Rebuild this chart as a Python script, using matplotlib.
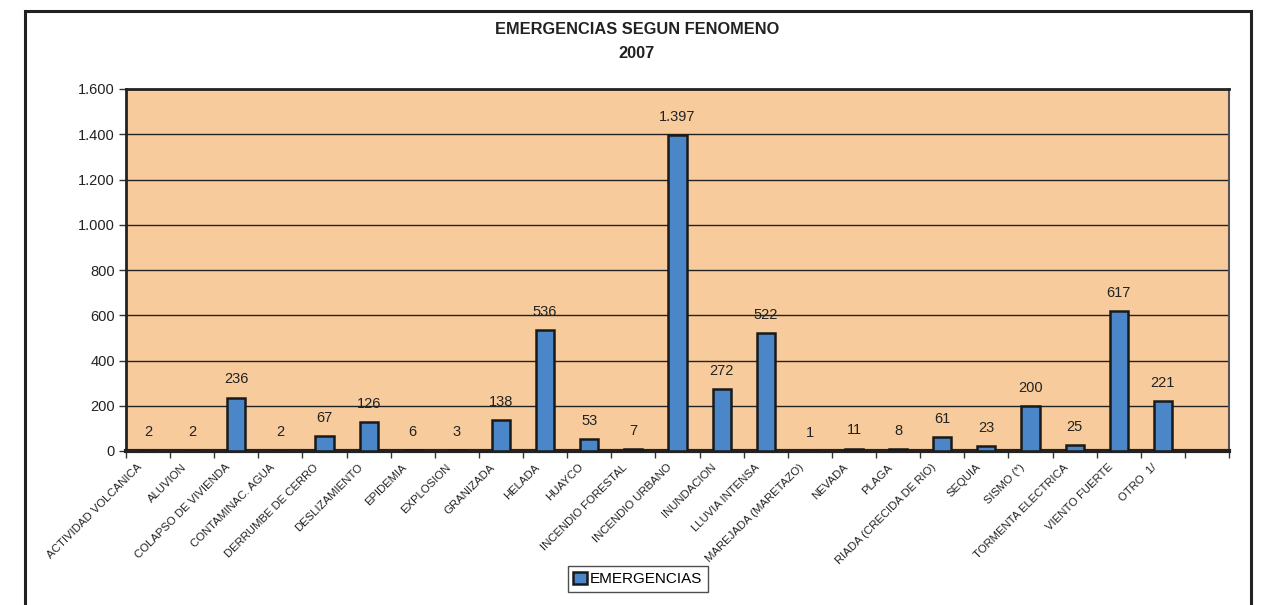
import matplotlib
matplotlib.use('Agg')
import matplotlib.pyplot as plt
import numpy as np
from matplotlib.ticker import FuncFormatter, FixedLocator
from matplotlib.patches import Rectangle

categories = ['ACTIVIDAD VOLCANICA', 'ALUVION', 'COLAPSO DE VIVIENDA', 'CONTAMINAC. AGUA',
              'DERRUMBE DE CERRO', 'DESLIZAMIENTO', 'EPIDEMIA', 'EXPLOSION', 'GRANIZADA',
              'HELADA', 'HUAYCO', 'INCENDIO FORESTAL', 'INCENDIO URBANO', 'INUNDACION',
              'LLUVIA INTENSA', 'MAREJADA (MARETAZO)', 'NEVADA', 'PLAGA',
              'RIADA (CRECIDA DE RIO)', 'SEQUIA', 'SISMO (*)', 'TORMENTA ELECTRICA',
              'VIENTO FUERTE', 'OTRO  1/']
emergencias = [2, 2, 236, 2, 67, 126, 6, 3, 138, 536, 53, 7, 1397, 272, 522, 1, 11, 8,
               61, 23, 200, 25, 617, 221]
n_slots = 25  # the excel range had one empty slot at the end

plt.rcParams['font.family'] = ['Liberation Sans Narrow', 'Liberation Sans', 'DejaVu Sans']

bg = '#F7CB9C'
bar_c = '#4A86C8'

f = plt.figure(figsize=(12.69, 6.05), dpi=100)
ax = f.add_axes([126/1269, 1-451/605, (1229-126)/1269, (451-89)/605])
ax.set_facecolor(bg)

x = np.arange(len(categories))
bars = ax.bar(x, emergencias, width=0.41, color=bar_c, edgecolor='#1a1a1a', lw=1.8,
              zorder=3, label='EMERGENCIAS')

def fmt(v, pos=None):
    return f'{int(v):,}'.replace(',', '.')

for xi, v in zip(x, emergencias):
    ax.annotate(fmt(v), (xi, v), xytext=(0, 8), textcoords='offset points',
                ha='center', va='bottom', fontsize=10.5, color='#222')

ax.set_xlim(-0.5, n_slots - 0.5)
ax.set_ylim(0, 1600)
ax.set_yticks(np.arange(0, 1601, 200))
ax.yaxis.set_major_formatter(FuncFormatter(fmt))
ax.yaxis.grid(True, color='#222', lw=1.0, zorder=1)
ax.set_axisbelow(True)

# labels anchored a bit left of the slot centre, like excel does
ax.set_xticks(x - 0.25)
ax.set_xticklabels(categories, rotation=45, ha='right', rotation_mode='anchor', fontsize=8.2,
                   color='#222')
ax.xaxis.set_minor_locator(FixedLocator(np.arange(-0.5, n_slots, 1)))
ax.tick_params(axis='x', which='major', length=0, pad=8)
ax.tick_params(axis='x', which='minor', length=5, width=1, color='#333')
ax.tick_params(axis='y', length=5, width=1, color='#333', labelsize=10.5, labelcolor='#222', pad=3)

for s in ['left', 'top']:
    ax.spines[s].set_linewidth(2)
    ax.spines[s].set_color('#222')
ax.spines['bottom'].set_linewidth(3)
ax.spines['bottom'].set_color('#222')
ax.spines['right'].set_linewidth(1.5)
ax.spines['right'].set_color('#555')

f.text(637/1269, 1-29/605, 'EMERGENCIAS SEGUN FENOMENO', ha='center', va='center',
       fontsize=11.8, fontweight='bold', color='#222')
f.text(637/1269, 1-54/605, '2007', ha='center', va='center',
       fontsize=11.8, fontweight='bold', color='#222')

# outer chart frame, cut at the bottom of the image
f.patches.append(Rectangle((25/1269, -0.05), (1251-25)/1269, 1.05 - 11/605,
                           transform=f.transFigure, fill=False, ec='#222', lw=2.2))

leg = f.legend(loc='center', bbox_to_anchor=(638/1269, 1-579/605), fontsize=11,
               frameon=True, fancybox=False, edgecolor='#222', handlelength=0.9,
               handleheight=0.9, handletextpad=0.2, borderpad=0.35)
leg.get_frame().set_linewidth(1.0)

f.savefig('out.png', dpi=100)
